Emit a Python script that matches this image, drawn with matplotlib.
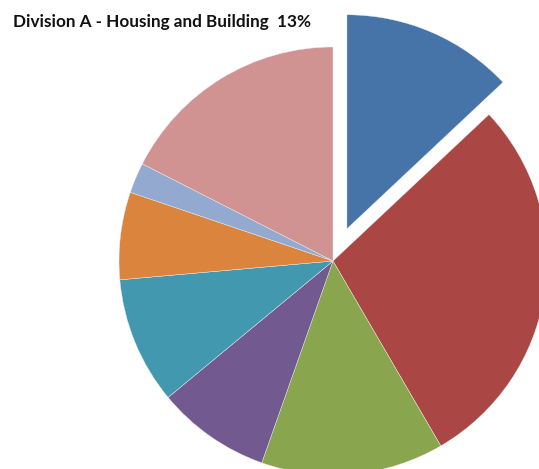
import matplotlib
matplotlib.use("Agg")
import matplotlib.pyplot as plt

# ~~~~~~ Division shares (%) ~~~~~~~~~~~~~~~~~~~~~~~~~~~~~~~~~~~~~~~~~~~~~~~~~~

divisions = ['A', 'B', 'C', 'D', 'E', 'F', 'G', 'H']
shares = [13.0, 28.6, 13.8, 8.6, 9.6, 6.6, 2.3, 17.5]
colors = ['#4674A9', '#AA4744', '#89A54E', '#72598F', '#4298AF',
          '#DB843D', '#93A9CF', '#D19392']

title = 'Division A - Housing and Building  13%'


radius = 214
# pull the first slice out; pie() takes explode in data units
explode = [0.164 * radius] + [0] * (len(shares) - 1)

fig = plt.figure(figsize=(5.39, 4.69), dpi=100)
ax = fig.add_axes([0, 0, 1, 1])

ax.pie(shares, colors=colors, explode=explode, startangle=90,
       counterclock=False, center=(333, 208), radius=radius,
       wedgeprops=dict(edgecolor='#eeeeee', linewidth=0.3))

ax.set_xlim(0, 539)
ax.set_ylim(0, 469)
ax.set_aspect('equal')
ax.axis('off')

fig.text(13 / 539, 1 - 22 / 469, title, fontsize=12.3, fontweight='bold',
         family=['Lato', 'DejaVu Sans'], va='center', ha='left',
         color='#111111')

fig.savefig('out.png', dpi=100)
